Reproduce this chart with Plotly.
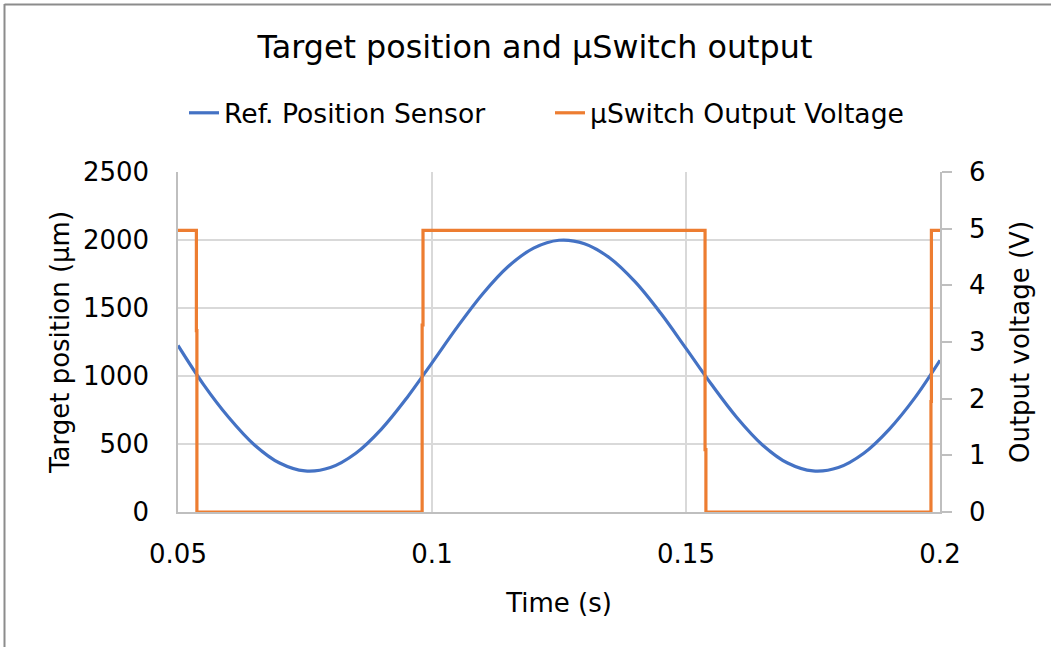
import plotly.graph_objects as go

# ---- data ----
pos_time = [0.050, 0.055, 0.060, 0.065, 0.070, 0.075, 0.080, 0.085, 0.090, 0.095,
            0.100, 0.105, 0.110, 0.115, 0.120, 0.125, 0.130, 0.135, 0.140, 0.145,
            0.150, 0.155, 0.160, 0.165, 0.170, 0.175, 0.180, 0.185, 0.190, 0.195, 0.200]
pos_um = [1225, 939, 695, 495, 360, 302, 327, 432, 608, 837,
          1097, 1361, 1605, 1805, 1940, 1998, 1973, 1868, 1692, 1463,
          1203, 939, 695, 495, 360, 302, 327, 432, 608, 837, 1115]

sw_time = [0.050, 0.05359, 0.05362, 0.05372, 0.09803, 0.09806, 0.09823,
           0.15372, 0.15375, 0.15392, 0.19819, 0.19822, 0.19831, 0.200]
sw_volt = [4.97, 4.97, 3.2, 0.0, 0.0, 3.3, 4.97,
           4.97, 1.1, 0.0, 0.0, 1.95, 4.97, 4.97]

x_tick_vals = [0.05, 0.1, 0.15, 0.2]
x_tick_labels = ["0.05", "0.1", "0.15", "0.2"]
y1_tick_vals = [0, 500, 1000, 1500, 2000, 2500]
y1_tick_labels = ["0", "500", "1000", "1500", "2000", "2500"]
y2_tick_vals = [0, 1, 2, 3, 4, 5, 6]
y2_tick_labels = ["0", "1", "2", "3", "4", "5", "6"]

title_text = "Target position and µSwitch output"
name_pos = "Ref. Position Sensor"
name_sw = "µSwitch Output Voltage"

FONT = "DejaVu Sans"
FS = 26
BLUE = "#4472C4"
ORANGE = "#ED7D31"
GRID = "#D9D9D9"
AXIS = "#BFBFBF"
TXT = "#000000"

fig = go.Figure()
fig.add_trace(go.Scatter(x=pos_time, y=pos_um, name=name_pos, mode="lines",
                         line=dict(color=BLUE, width=3.2, shape="spline", smoothing=1.0),
                         yaxis="y"))
fig.add_trace(go.Scatter(x=sw_time, y=sw_volt, name=name_sw, mode="lines",
                         line=dict(color=ORANGE, width=3.2, shape="hv"),
                         yaxis="y2"))

W, H = 1051, 647
L, R, T, B = 178, 940, 172, 512
pw, ph = R - L, B - T


def px_x(p):
    return (p - L) / pw


def px_y(p):
    return (B - p) / ph


fnt = dict(family=FONT, size=FS, color=TXT)

fig.update_layout(
    width=W, height=H,
    margin=dict(l=L, r=W - R, t=T, b=H - B, pad=0),
    paper_bgcolor="white", plot_bgcolor="white",
    font=fnt,
    title=dict(text=title_text, font=dict(family=FONT, size=31.8, color=TXT),
               x=535 / W, xref="container", xanchor="center",
               y=1 - 47 / H, yref="container", yanchor="middle"),
    showlegend=True,
    legend=dict(orientation="h", x=px_x(184), xanchor="left",
                y=px_y(113), yanchor="middle",
                font=dict(family=FONT, size=26.6, color=TXT),
                bgcolor="rgba(0,0,0,0)", traceorder="normal",
                entrywidth=321, entrywidthmode="pixels"),
    xaxis=dict(range=[0.05, 0.2], tickvals=x_tick_vals, ticktext=x_tick_labels,
               showgrid=True, gridcolor=GRID, gridwidth=1.5,
               showline=True, linecolor=AXIS, linewidth=1.5,
               ticks="", ticklabelstandoff=18, zeroline=False,
               title=dict(text="Time (s)", standoff=26, font=fnt),
               tickfont=fnt),
    yaxis=dict(range=[0, 2500], tickvals=y1_tick_vals, ticktext=y1_tick_labels,
               showgrid=True, gridcolor=GRID, gridwidth=1.5,
               showline=True, linecolor=AXIS, linewidth=1.5,
               ticks="", ticklabelstandoff=22, zeroline=False,
               title=dict(text="Target position (µm)", standoff=6, font=fnt),
               tickfont=fnt),
    yaxis2=dict(range=[0, 6], tickvals=y2_tick_vals, ticktext=y2_tick_labels,
                overlaying="y", side="right", showgrid=False,
                showline=True, linecolor=AXIS, linewidth=1.5,
                ticks="outside", ticklen=10, tickcolor=AXIS, tickwidth=1.5,
                ticklabelstandoff=12, zeroline=False,
                title=dict(text="Output voltage (V)", standoff=26, font=fnt),
                tickfont=fnt),
    shapes=[
        dict(type="line", xref="paper", yref="paper",
             x0=px_x(4.5), x1=px_x(4.5), y0=px_y(4), y1=px_y(H + 5),
             line=dict(color="#8C8C8C", width=2)),
        dict(type="line", xref="paper", yref="paper",
             x0=px_x(4.5), x1=px_x(W + 5), y0=px_y(4.5), y1=px_y(4.5),
             line=dict(color="#8C8C8C", width=2)),
    ],
)

fig.write_html("out.html", config={"displayModeBar": False},
               post_script="document.body.style.margin='0px';")
